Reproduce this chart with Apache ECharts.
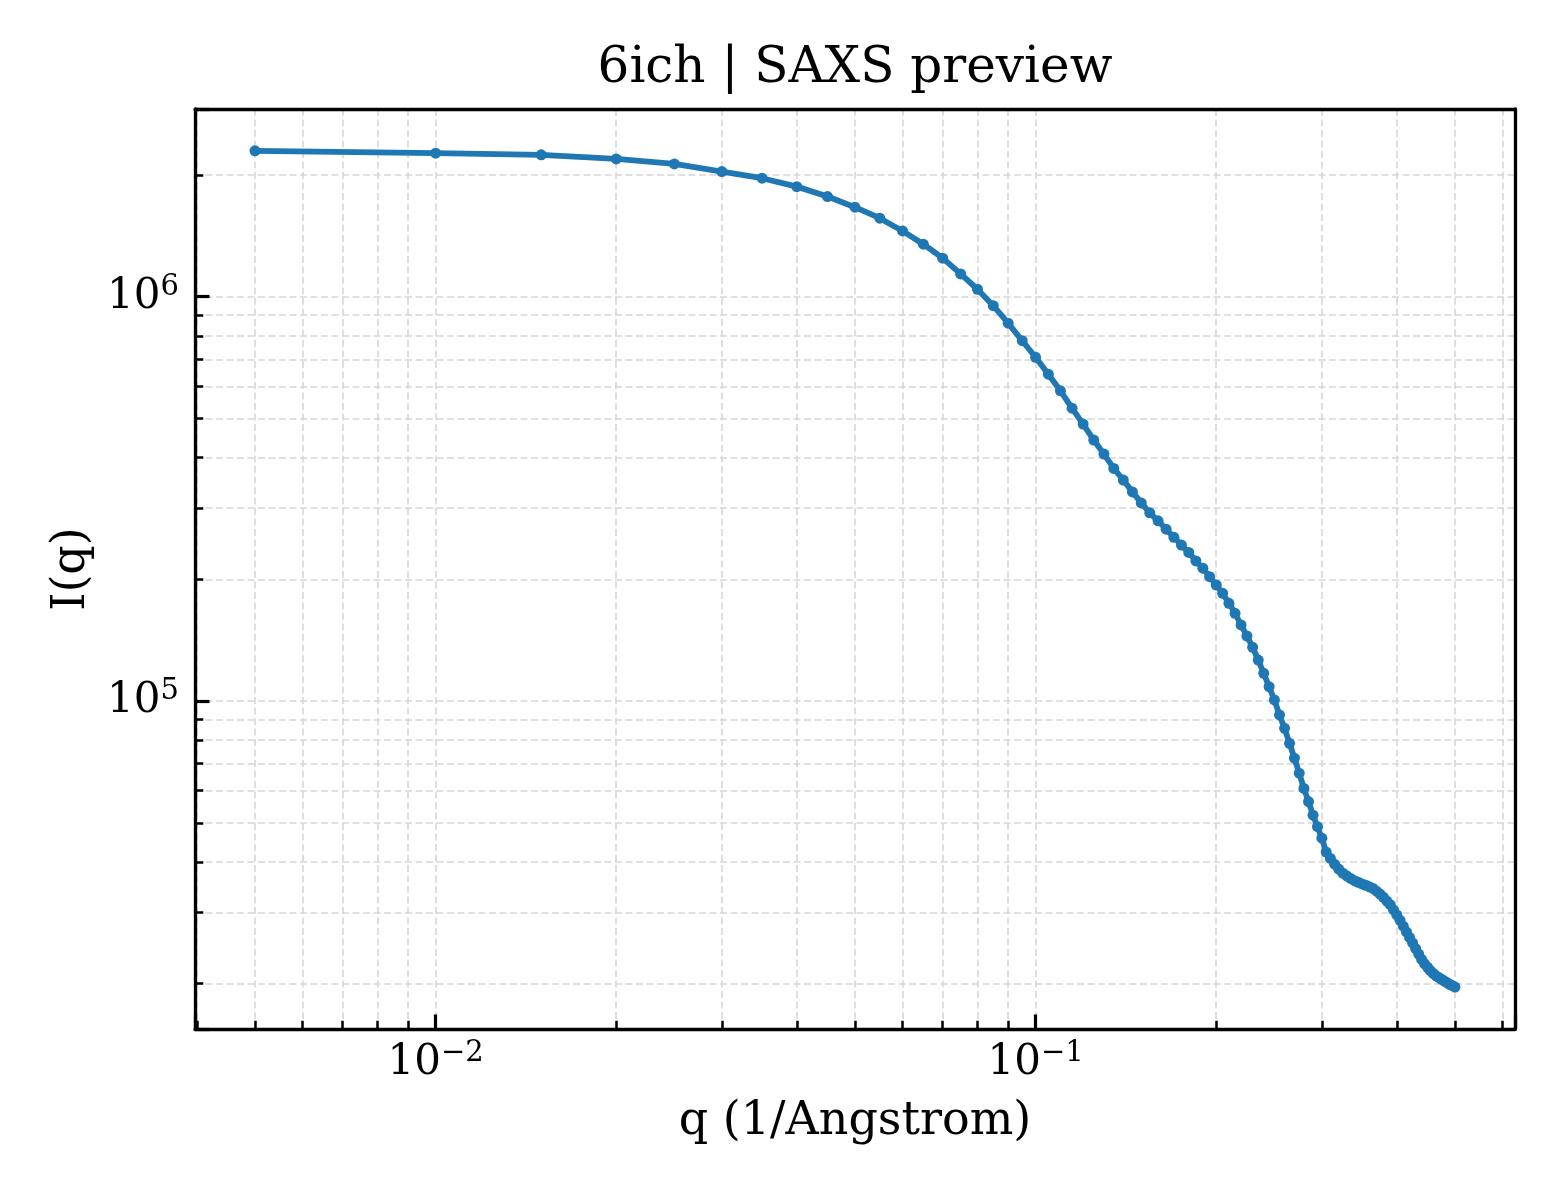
<!DOCTYPE html>
<html>
<head>
<meta charset="utf-8">
<style>
  html, body { margin: 0; padding: 0; background: #ffffff; }
  #chart { width: 1560px; height: 1200px; }
</style>
<script src="https://cdn.jsdelivr.net/npm/echarts@6/dist/echarts.min.js"></script>
</head>
<body>
<div id="chart"></div>
<script>
const titleText = '6ich | SAXS preview';
const xAxisName = 'q (1/Angstrom)';
const yAxisName = 'I(q)';

const qValues = [
  0.005, 0.010, 0.015, 0.020, 0.025, 0.030, 0.035, 0.040, 0.045, 0.050,
  0.055, 0.060, 0.065, 0.070, 0.075, 0.080, 0.085, 0.090, 0.095, 0.100,
  0.105, 0.110, 0.115, 0.120, 0.125, 0.130, 0.135, 0.140, 0.145, 0.150,
  0.155, 0.160, 0.165, 0.170, 0.175, 0.180, 0.185, 0.190, 0.195, 0.200,
  0.205, 0.210, 0.215, 0.220, 0.225, 0.230, 0.235, 0.240, 0.245, 0.250,
  0.255, 0.260, 0.265, 0.270, 0.275, 0.280, 0.285, 0.290, 0.295, 0.300,
  0.305, 0.310, 0.315, 0.320, 0.325, 0.330, 0.335, 0.340, 0.345, 0.350,
  0.355, 0.360, 0.365, 0.370, 0.375, 0.380, 0.385, 0.390, 0.395, 0.400,
  0.405, 0.410, 0.415, 0.420, 0.425, 0.430, 0.435, 0.440, 0.445, 0.450,
  0.455, 0.460, 0.465, 0.470, 0.475, 0.480, 0.485, 0.490, 0.495, 0.500
];

const intensity = [
  2294000, 2263000, 2242000, 2191000, 2129000, 2038000, 1963000, 1871000, 1768000, 1664000,
  1563000, 1454000, 1348000, 1245000, 1138000, 1043000, 950000, 860000, 778000, 708000,
  643000, 585000, 530000, 484000, 442000, 408000, 376000, 352000, 329000, 309000,
  292000, 279000, 266000, 254000, 243000, 233000, 222000, 213000, 203000, 193600,
  184700, 174400, 164800, 154200, 144800, 135800, 126300, 117100, 108500, 100600,
  92400, 85600, 78600, 72200, 66300, 60800, 56400, 52200, 48900, 45800,
  42300, 40800, 39500, 38400, 37550, 36960, 36410, 35960, 35630, 35290,
  35030, 34710, 34410, 33870, 33310, 32700, 32010, 31360, 30450, 29580,
  28680, 27750, 26850, 26020, 25220, 24430, 23670, 22960, 22400, 21960,
  21530, 21200, 20910, 20710, 20500, 20300, 20110, 19930, 19770, 19620
];

const xRange = [0.003972, 0.6295];
const yRange = [15450, 2911000];

const seriesData = qValues.map((q, i) => [q, intensity[i]]);

const FONT = 'DejaVu Serif';

function powLabel(v) {
  const e = Math.log10(v);
  const r = Math.round(e);
  if (Math.abs(e - r) > 1e-6) return '';
  const exp = String(r).replace('-', '\u2212');
  return '{b|10}{s|' + exp + '}';
}

const labelRich = {
  b: { fontFamily: FONT, fontSize: 42, color: '#000', lineHeight: 48 },
  s: { fontFamily: FONT, fontSize: 29, color: '#000', lineHeight: 26, verticalAlign: 'top' }
};

const gridLine = { color: '#d6d6d6', width: 1.6, type: [7, 3.5] };
const frameLine = { show: true, onZero: false, lineStyle: { color: '#000', width: 3.3 } };

function frameAxis(extra) {
  return Object.assign({
    type: 'log',
    logBase: 10,
    axisLine: frameLine,
    axisTick: { show: false },
    minorTick: { show: false },
    axisLabel: { show: false },
    splitLine: { show: false },
    minorSplitLine: { show: false },
    silent: true
  }, extra);
}

const chart = echarts.init(document.getElementById('chart'), null, { renderer: 'canvas' });

chart.setOption({
  animation: false,
  backgroundColor: '#ffffff',
  graphic: [{
    type: 'text',
    x: 855,
    y: 69,
    style: {
      text: titleText,
      font: '50px "DejaVu Serif"',
      fill: '#000',
      textAlign: 'center',
      textVerticalAlign: 'middle'
    }
  }],
  grid: {
    left: 195, top: 109, right: 45, bottom: 171,
    show: false
  },
  xAxis: [{
    type: 'log',
    logBase: 10,
    min: xRange[0],
    max: xRange[1],
    position: 'bottom',
    name: xAxisName,
    nameLocation: 'middle',
    nameGap: 70,
    nameTextStyle: { fontFamily: FONT, fontSize: 46, color: '#000' },
    axisLine: frameLine,
    axisTick: { show: true, inside: true, length: 14.5, lineStyle: { color: '#000', width: 3.2 } },
    minorTick: { show: true, splitNumber: 9, length: 8.3, lineStyle: { color: '#000', width: 2.5 } },
    splitLine: { show: true, showMinLine: false, showMaxLine: false, lineStyle: gridLine },
    minorSplitLine: { show: true, lineStyle: gridLine },
    axisLabel: { margin: 10, formatter: powLabel, rich: labelRich }
  }, frameAxis({ min: xRange[0], max: xRange[1], position: 'top' })],
  yAxis: [{
    type: 'log',
    logBase: 10,
    min: yRange[0],
    max: yRange[1],
    position: 'left',
    name: yAxisName,
    nameLocation: 'middle',
    nameGap: 100,
    nameTextStyle: { fontFamily: FONT, fontSize: 46, color: '#000' },
    axisLine: frameLine,
    axisTick: { show: true, inside: true, length: 14.5, lineStyle: { color: '#000', width: 3.2 } },
    minorTick: { show: true, splitNumber: 9, length: 8.3, lineStyle: { color: '#000', width: 2.5 } },
    splitLine: { show: true, showMinLine: false, showMaxLine: false, lineStyle: gridLine },
    minorSplitLine: { show: true, lineStyle: gridLine },
    axisLabel: { margin: 16, formatter: powLabel, rich: labelRich }
  }, frameAxis({ min: yRange[0], max: yRange[1], position: 'right' })],
  series: [{
    type: 'line',
    data: seriesData,
    xAxisIndex: 0,
    yAxisIndex: 0,
    symbol: 'circle',
    symbolSize: 11,
    showSymbol: true,
    showAllSymbol: true,
    lineStyle: { color: '#1f77b4', width: 5.8 },
    itemStyle: { color: '#1f77b4' },
    emphasis: { disabled: true },
    z: 5
  }]
});
</script>
</body>
</html>
